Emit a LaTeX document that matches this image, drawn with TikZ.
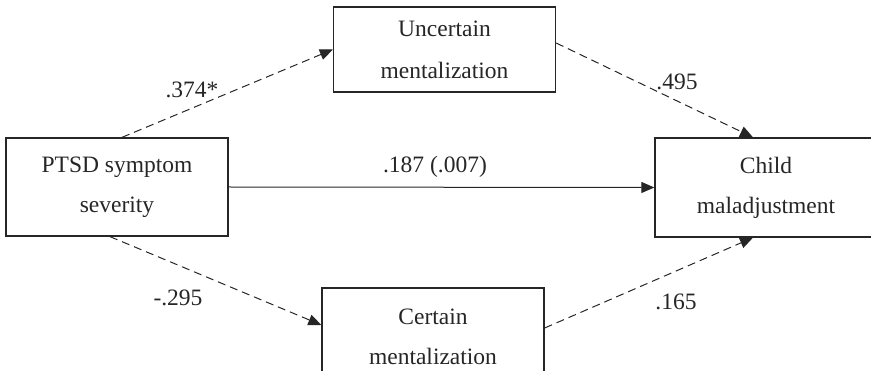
\documentclass[tikz,border=0pt]{standalone}
\usepackage{fontspec}
\setmainfont{Liberation Serif}
\usetikzlibrary{arrows.meta}
\begin{document}
\begin{tikzpicture}[x=1pt,y=-1pt,
  every node/.style={font=\fontsize{23.5}{40}\selectfont, text=black!85},
  box/.style={draw=black!85, line width=1.3pt, minimum width=222pt, align=center, inner sep=0pt},
  path/.style={draw=black!85, line width=1pt, -{Triangle[length=13pt,width=11pt]}},
  mediated/.style={path, dash pattern=on 8pt off 5pt},
  coef/.style={inner sep=0pt}]
  \useasboundingbox (0,0) rectangle (871,371);
  \clip (0,0) rectangle (871,371);

  % variables
  \node[box, minimum height=98pt] (ptsd) at (117,187) {PTSD symptom\\severity};
  \node[box, minimum height=85pt, font=\fontsize{23.5}{42}\selectfont] (unc) at (444.5,49.5) {Uncertain\\mentalization};
  \node[box, minimum height=99pt] (child) at (766,187.5) {Child\\maladjustment};
  \node[box, minimum height=98pt] (cert) at (433,337) {Certain\\mentalization};

  % paths
  \draw[mediated] ([xshift=5pt]ptsd.north) -- (unc.west);
  \draw[mediated] ([yshift=6.5pt]unc.east) -- ([xshift=-13pt]child.north);
  \draw[path] (ptsd.east) -- (child.west);
  \draw[mediated] ([xshift=-7pt]ptsd.south) -- ([yshift=12pt]cert.west);
  \draw[mediated] ([yshift=9pt]cert.east) -- ([xshift=-13pt]child.south);

  % coefficients
  \node[coef] (c1) at (192,90) {.374*};
  \node[coef] (c2) at (677,82) {.495};
  \node[coef] (c3) at (435,167) {.187 (.007)};
  \node[coef] (c4) at (178,298) {-.295};
  \node[coef] (c5) at (676,302) {.165};
\end{tikzpicture}
\end{document}
